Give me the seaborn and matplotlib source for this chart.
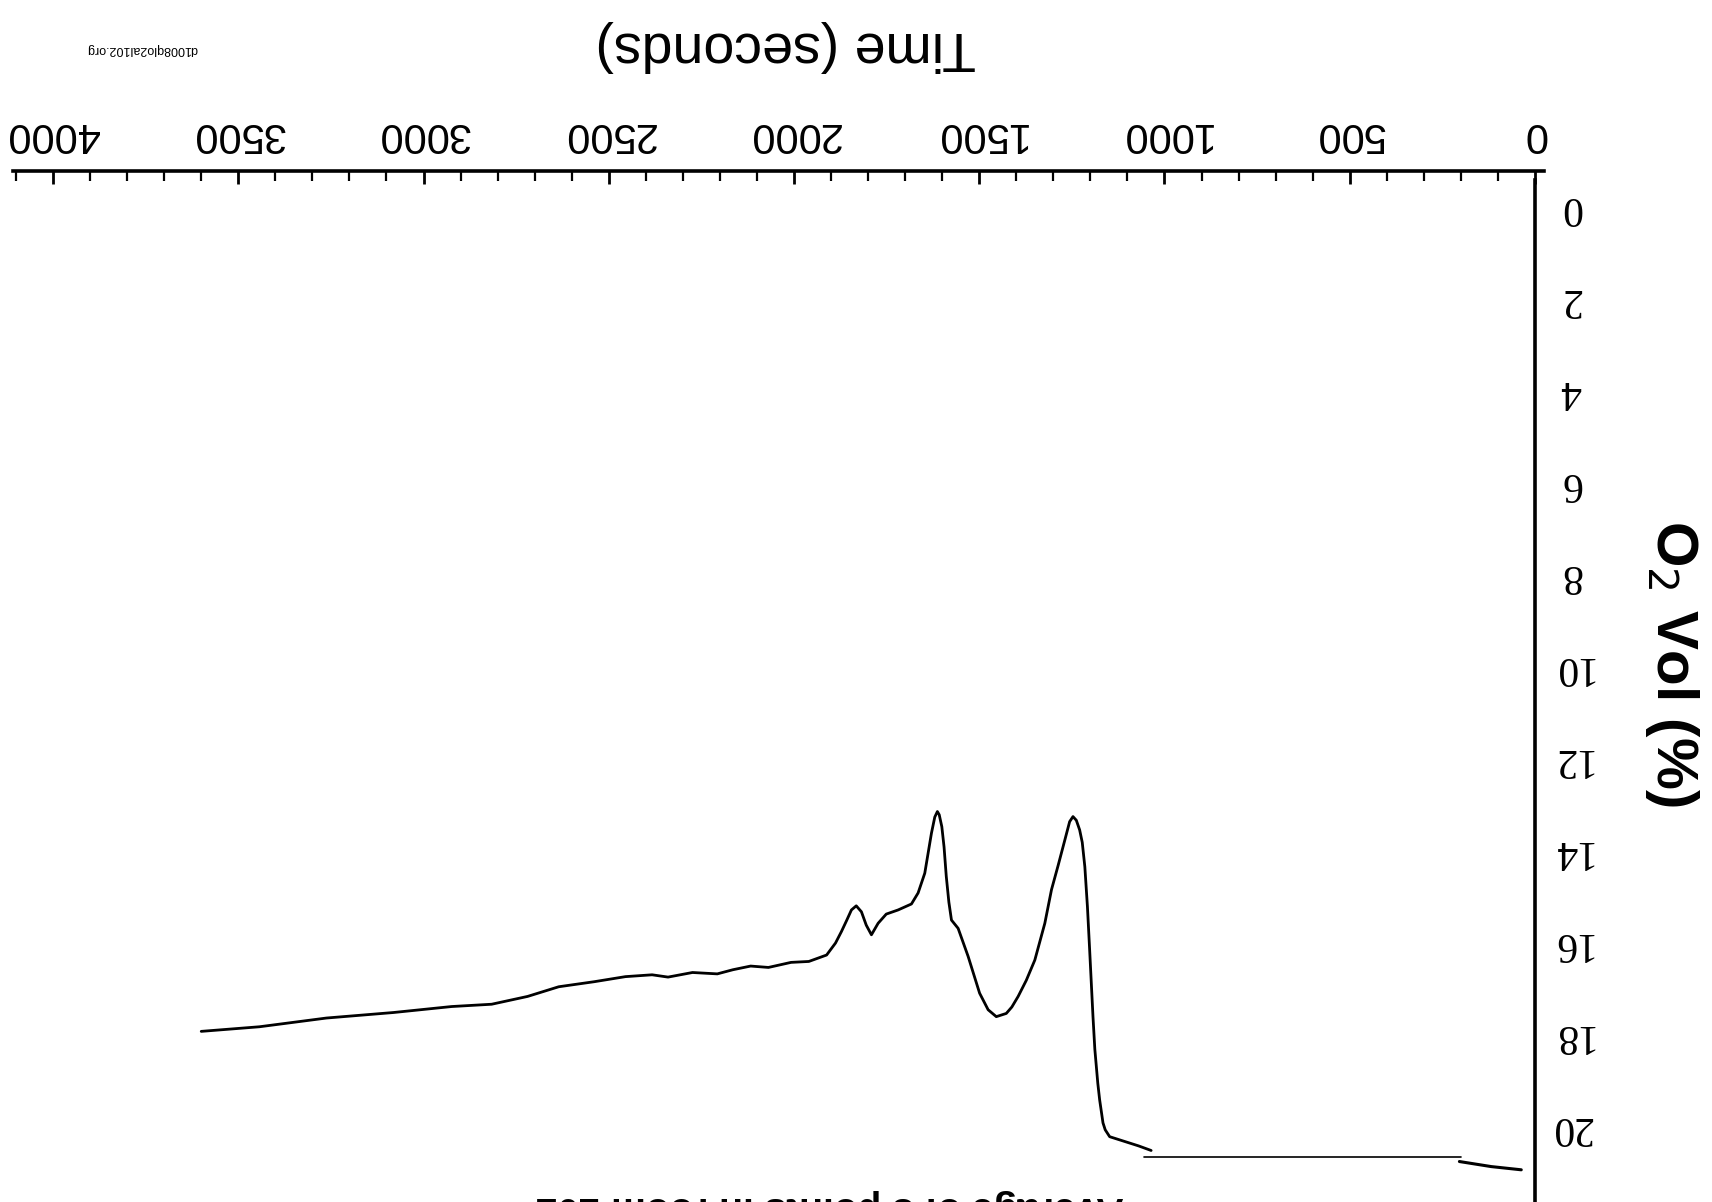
import matplotlib
matplotlib.use("Agg")
import matplotlib.pyplot as plt
import seaborn as sns
from matplotlib.ticker import MultipleLocator

time_start = [37, 118, 204]
o2_start = [21.02, 20.95, 20.84]

time_gap = [199, 1054]
o2_gap = [20.75, 20.75]

time_main = [1036, 1070, 1109, 1148, 1160, 1166, 1175, 1180, 1188, 1193,
             1202, 1208, 1215, 1222, 1229, 1238, 1247, 1256, 1269, 1287,
             1305, 1323, 1350, 1373, 1395, 1412, 1427, 1454, 1476, 1499,
             1530, 1557, 1575, 1582, 1589, 1595, 1601, 1608, 1613, 1620,
             1629, 1647, 1665, 1683, 1719, 1751, 1773, 1791, 1805, 1818,
             1832, 1845, 1858, 1872, 1888, 1912, 1960, 2008, 2069, 2117,
             2165, 2207, 2274, 2340, 2383, 2455, 2539, 2635, 2719, 2816,
             2924, 3081, 3262, 3443, 3600]
o2_main = [20.6, 20.5, 20.4, 20.3, 20.15, 20.0, 19.5, 19.14, 18.4, 17.69,
           16.24, 15.3, 14.43, 13.9, 13.63, 13.42, 13.34, 13.45, 13.85, 14.4,
           14.93, 15.66, 16.46, 16.9, 17.25, 17.48, 17.62, 17.69, 17.54, 17.18,
           16.38, 15.77, 15.59, 15.2, 14.64, 14.0, 13.56, 13.3, 13.23, 13.35,
           13.70, 14.57, 15.0, 15.24, 15.37, 15.46, 15.66, 15.91, 15.7, 15.41,
           15.28, 15.37, 15.6, 15.84, 16.09, 16.35, 16.49, 16.51, 16.62, 16.59,
           16.67, 16.76, 16.73, 16.83, 16.78, 16.82, 16.93, 17.04, 17.25, 17.42,
           17.47, 17.60, 17.72, 17.91, 18.01]

x_ticks = [0, 500, 1000, 1500, 2000, 2500, 3000, 3500, 4000]
y_ticks = [0, 2, 4, 6, 8, 10, 12, 14, 16, 18, 20]

sns.set_theme(style="white")
plt.rcParams['font.family'] = ['Liberation Sans', 'DejaVu Sans']

fig = plt.figure(figsize=(17.12, 12.02), dpi=100)
ax = fig.add_axes([0.0076, 0.0, 0.889, 0.8577])

sns.lineplot(x=time_start, y=o2_start, color='black', lw=2.2, estimator=None, ax=ax)
sns.lineplot(x=time_gap, y=o2_gap, color='black', lw=1.2, estimator=None, ax=ax)
sns.lineplot(x=time_main, y=o2_main, color='black', lw=2.0, estimator=None, ax=ax)

# whole chart is upside down: time runs right->left, O2 top->bottom
ax.set_xlim(4108, 0)
ax.set_ylim(21.72, -0.696)
ax.set_facecolor('white')

for side in ['left', 'bottom']:
    ax.spines[side].set_visible(False)
for side in ['top', 'right']:
    ax.spines[side].set_visible(True)
    ax.spines[side].set_color('black')
    ax.spines[side].set_linewidth(2.6)
ax.spines['right'].set_bounds(21.72, -0.5)
ax.spines['top'].set_bounds(-25, 4108)

ax.xaxis.tick_top()
ax.yaxis.tick_right()
ax.set_xticks(x_ticks)
ax.set_xticklabels([str(v) for v in x_ticks])
ax.xaxis.set_minor_locator(MultipleLocator(100))
ax.tick_params(axis='x', which='major', direction='in', length=9, width=2,
               color='black', pad=12, labelsize=30, labelrotation=180,
               labelcolor='black', top=True, bottom=False)
ax.tick_params(axis='x', which='minor', direction='in', length=7, width=1.6,
               color='black', top=True, bottom=False)

ax.set_yticks(y_ticks)
ax.set_yticklabels([str(v) for v in y_ticks])
ax.tick_params(axis='y', which='major', length=0, pad=26, labelsize=30,
               labelrotation=180, labelcolor='black', right=True, left=False)
for lab in ax.get_yticklabels():
    lab.set_horizontalalignment('center')
    lab.set_family(['Liberation Serif', 'DejaVu Serif'])

ax.set_xlabel('')
ax.set_ylabel('')
ax.grid(False)

fig.text(786 / 1712, 1 - 46 / 1202, 'Time (seconds)', rotation=180,
         ha='center', va='center', fontsize=40, color='black')
fig.text(1672 / 1712, 1 - 663 / 1202, 'O$_2$ Vol (%)', rotation=270,
         ha='center', va='center', fontsize=42, fontweight='bold', color='black')
# the scan cuts this caption off at the bottom edge, kept that way
fig.text(830 / 1712, 1 - 1189 / 1202, 'Average of 3 points in room 102',
         rotation=180, ha='center', va='top', fontsize=28, fontweight='bold',
         color='black')
fig.text(142 / 1712, 1 - 49 / 1202, 'd1008qlo2al102.org', rotation=180,
         ha='center', va='center', fontsize=9, color='black')

fig.savefig('out.png', dpi=100, facecolor='white')
